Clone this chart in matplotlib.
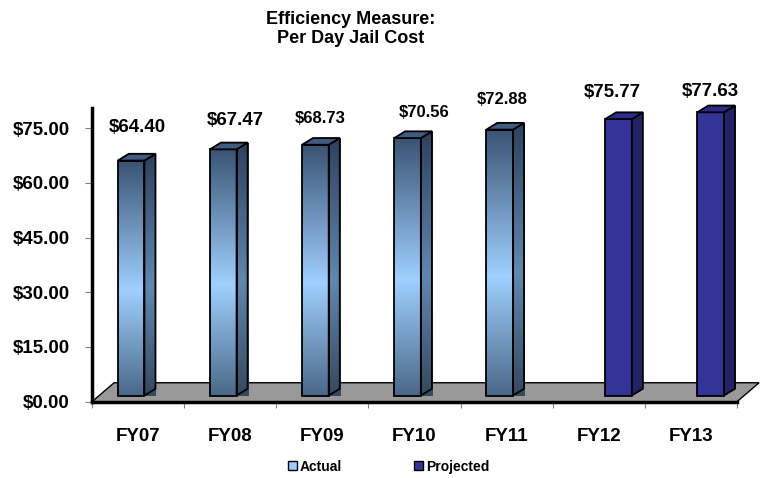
import numpy as np
import matplotlib.pyplot as plt
from matplotlib.patches import Polygon, Rectangle, Patch
from matplotlib.colors import LinearSegmentedColormap

plt.rcParams['font.family'] = ['Liberation Sans', 'DejaVu Sans']

# data
years = ["FY07", "FY08", "FY09", "FY10", "FY11", "FY12", "FY13"]
actual = [64.40, 67.47, 68.73, 70.56, 72.88, None, None]
projected = [None, None, None, None, None, 75.77, 77.63]
y_ticks = [0, 15, 30, 45, 60, 75]

# label nudges (pixels) and sizes, like the excel original
label_dx = [6, 12, 5, 17, 3, -6, 0]
label_dy = [33, 29, 26, 26, 30, 27, 21]
label_fs = [13.5, 13.5, 12, 12, 12, 13.5, 13.5]

# fake 3d geometry (data units)
BAR_W = 0.29
SHIFT = 0.069      # cluster offset caused by the depth
DX, DY = 0.12, 1.85
BASE = 1.7
FLOOR_DX, FLOOR_DY = 0.24, 5.2

front_actual = LinearSegmentedColormap.from_list(
    "fa", [(0, "#4a6888"), (0.45, "#9fd0ff"), (1, "#3a5475")])
side_actual = LinearSegmentedColormap.from_list(
    "sa", [(0, "#33495f"), (0.45, "#5f88b0"), (1, "#2c425e")])
grad = np.linspace(0, 1, 256).reshape(-1, 1)

fig = plt.figure(figsize=(7.66, 4.78), dpi=100)
ax = fig.add_axes([0.1201, 0.1596, 0.842, 0.6144])

floor = Polygon([(-0.5, 0), (6.5, 0), (6.5 + FLOOR_DX, FLOOR_DY), (-0.5 + FLOOR_DX, FLOOR_DY)],
                closed=True, fc="#999999", ec="black", lw=1, clip_on=False, zorder=1)
ax.add_patch(floor)


def draw_bar(x0, h, front_cmap=None, side_cmap=None, front_color=None, side_color=None, top_color=None):
    y0, y1 = BASE, BASE + h
    x1 = x0 + BAR_W
    front = Rectangle((x0, y0), BAR_W, h, fc=front_color if front_color else "none",
                      ec="black", lw=1.3, zorder=5, clip_on=False)
    side = Polygon([(x1, y0), (x1 + DX, y0 + DY), (x1 + DX, y1 + DY), (x1, y1)], closed=True,
                   fc=side_color if side_color else "none", ec="black", lw=1.3, zorder=5, clip_on=False)
    top = Polygon([(x0, y1), (x1, y1), (x1 + DX, y1 + DY), (x0 + DX, y1 + DY)], closed=True,
                  fc=top_color, ec="black", lw=1.3, zorder=5, clip_on=False)
    ax.add_patch(front)
    ax.add_patch(side)
    ax.add_patch(top)
    if front_cmap is not None:
        im = ax.imshow(grad, extent=(x0, x1, y0, y1), origin="lower", cmap=front_cmap,
                       aspect="auto", zorder=4, clip_on=False)
        im.set_clip_path(front)
    if side_cmap is not None:
        im2 = ax.imshow(grad, extent=(x1, x1 + DX, y0, y1 + DY), origin="lower", cmap=side_cmap,
                        aspect="auto", zorder=4, clip_on=False)
        im2.set_clip_path(side)


for i, v in enumerate(actual):
    if v is None:
        continue
    x0 = i + SHIFT - BAR_W
    draw_bar(x0, v, front_cmap=front_actual, side_cmap=side_actual, top_color="#3f5b80")

for i, v in enumerate(projected):
    if v is None:
        continue
    x0 = i + SHIFT
    draw_bar(x0, v, front_color="#333399", side_color="#222266", top_color="#2b2b88")

# value labels
for i in range(len(years)):
    if actual[i] is not None:
        v, x0 = actual[i], i + SHIFT - BAR_W
    else:
        v, x0 = projected[i], i + SHIFT
    ax.annotate(f"${v:.2f}", xy=(x0 + BAR_W / 2, BASE + v), xytext=(label_dx[i], label_dy[i]),
                textcoords="offset pixels", ha="center", va="center",
                fontsize=label_fs[i], fontweight="bold", annotation_clip=False, zorder=6)

ax.set_xlim(-0.5, 6.5)
ax.set_ylim(0, 80.5)

ax.set_yticks(y_ticks)
ax.set_yticklabels([f"${t:.2f}" for t in y_ticks], fontweight="bold")
ax.tick_params(axis="y", length=5, width=0.8, color="#808080", pad=11, labelsize=13.5)
ax.set_xticks(range(len(years)))
ax.set_xticklabels(years, fontweight="bold")
ax.set_xticks(np.arange(-0.5, 7, 1), minor=True)
ax.tick_params(axis="x", which="major", length=0, pad=19, labelsize=13.5)
ax.tick_params(axis="x", which="minor", length=4, width=0.8, color="#808080")

for s in ["top", "right"]:
    ax.spines[s].set_visible(False)
ax.spines["left"].set_linewidth(2.5)
ax.spines["bottom"].set_linewidth(2.5)
ax.spines["bottom"].set_zorder(3)

fig.text(0.458, 0.978, "Efficiency Measure:\nPer Day Jail Cost", ha="center", va="top",
         fontsize=13, fontweight="bold")

handles = [Patch(fc="#99ccff", ec="black", label="Actual"),
           Patch(fc="#333399", ec="black", label="Projected")]
leg = fig.legend(handles=handles, loc="center", bbox_to_anchor=(0.507, 0.0236), ncol=2,
                 frameon=False, prop={"size": 10, "weight": "bold"}, handlelength=0.65,
                 handleheight=0.65, handletextpad=0.2, columnspacing=5.2)

fig.savefig("out.png", dpi=100)
